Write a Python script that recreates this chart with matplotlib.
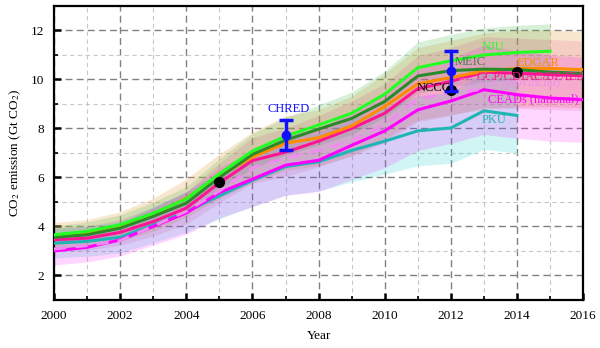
import matplotlib
matplotlib.use("Agg")
import matplotlib.pyplot as plt
import numpy as np
from matplotlib.ticker import MultipleLocator

plt.rcParams['font.family'] = ['Liberation Serif', 'DejaVu Serif']
plt.rcParams['mathtext.fontset'] = 'stix'

# emission estimates, Gt CO2
years = np.arange(2000, 2017)
nju = [3.66, 3.80, 4.07, 4.54, 5.12, 6.15, 7.08, 7.68, 8.14, 8.62, 9.40, 10.48, 10.76, 11.00, 11.10, 11.15]
meic = [3.56, 3.66, 3.93, 4.41, 4.95, 6.00, 6.94, 7.52, 7.97, 8.41, 9.10, 10.14, 10.36, 10.42, 10.40, 10.30, 10.25]
edgar = [3.62, 3.72, 4.00, 4.48, 5.16, 6.05, 6.83, 7.40, 7.62, 8.10, 8.90, 9.82, 10.08, 10.34, 10.45, 10.45, 10.40]
gcp = [3.46, 3.52, 3.76, 4.20, 4.75, 5.78, 6.69, 7.03, 7.48, 8.00, 8.62, 9.62, 9.92, 10.30, 10.25, 10.20, 10.15]
ceads_nat = [3.00, 3.15, 3.45, 4.00, 4.55, 5.38, 5.93, 6.50, 6.70, 7.31, 7.90, 8.76, 9.12, 9.58, 9.38, 9.24, 9.17]
ceads_prov = [3.08, 3.22, 3.42, 4.02, 4.62, 5.45, 6.40, 6.80, 7.10, 7.50, 8.15, 9.20, 9.45, 9.60]
pku = [3.32, 3.39, 3.56, 4.07, 4.60, 5.25, 5.88, 6.44, 6.64, 7.10, 7.48, 7.90, 8.02, 8.72, 8.53]

# relative uncertainty of each dataset (shaded band)
unc_nju = 0.10
unc_edgar = 0.15
unc_gcp = 0.14
unc_ceads = 0.19
unc_pku = 0.18

# single-year estimates
chred_yr, chred_val, chred_lo, chred_hi = 2007, 7.75, 7.13, 8.36
meic_yr, meic_val, meic_lo, meic_hi = 2012, 10.35, 9.52, 11.15
dot_yrs = [2005, 2012, 2014]
dot_vals = [5.83, 9.58, 10.31]

c_nju = '#22ff22'
c_meic = '#2a8a2a'
c_edgar = '#ff8c00'
c_gcp = '#ff1493'
c_nat = '#ff00ff'
c_prov = '#f08cf0'
c_pku = '#1fb5b5'
c_blue = '#1010ff'

fig = plt.figure(figsize=(6, 3.48), dpi=100)
ax = fig.add_axes([0.09, 0.138, 0.882, 0.845])

def band(vals, u, color, alpha):
    v = np.asarray(vals)
    x = years[:len(v)]
    ax.fill_between(x, v * (1 - u), v * (1 + u), color=color, alpha=alpha, lw=0, zorder=1)

band(edgar, unc_edgar, '#e8b060', 0.30)
band(nju, unc_nju, '#50b850', 0.22)
band(gcp, unc_gcp, '#e0307a', 0.14)
band(pku, unc_pku, '#00c8c8', 0.18)
band(ceads_nat, unc_ceads, '#ff00ff', 0.16)

lw = 2.2
ax.plot(years[:len(pku)], pku, color=c_pku, lw=lw, zorder=3)
ax.plot(years[:len(ceads_nat)], ceads_nat, color=c_nat, lw=lw, zorder=3)
ax.plot(years[:len(ceads_prov)], ceads_prov, color=c_prov, lw=lw, ls=(0, (4, 3)), zorder=3)
ax.plot(years[:len(gcp)], gcp, color=c_gcp, lw=lw, zorder=3)
ax.plot(years[:len(edgar)], edgar, color=c_edgar, lw=lw, zorder=3)
ax.plot(years[:len(meic)], meic, color=c_meic, lw=lw, zorder=3)
ax.plot(years[:len(nju)], nju, color=c_nju, lw=lw, zorder=3)

ax.plot(dot_yrs, dot_vals, 'o', color='black', ms=7, zorder=4)
ax.errorbar([chred_yr], [chred_val], yerr=[[chred_val - chred_lo], [chred_hi - chred_val]],
            fmt='o', color=c_blue, ms=6, lw=2.5, capsize=5, capthick=2.5, zorder=5)
ax.errorbar([meic_yr], [meic_val], yerr=[[meic_val - meic_lo], [meic_hi - meic_val]],
            fmt='o', color=c_blue, ms=6, lw=2.5, capsize=5, capthick=2.5, zorder=5)

fs = 9
ax.text(2012.92, 11.33, 'NJU', color=c_nju, fontsize=fs, va='center', zorder=6)
ax.text(2013.98, 10.68, 'EDGAR', color=c_edgar, fontsize=fs, va='center', zorder=6)
ax.text(2012.1, 10.72, 'MEIC', color='#4f7a4f', fontsize=fs, va='center', zorder=6)
ax.text(2012.77, 10.1, 'GCP/CDIAC/BP/IEA', color=c_gcp, fontsize=fs, va='center',
        clip_on=True, zorder=6)
ax.text(2012.25, 9.86, 'CEADs (provincial)', color=c_prov, fontsize=fs, va='center', zorder=6)
ax.text(2010.96, 9.66, 'NCCC', color='black', fontsize=fs, va='center', zorder=6)
ax.text(2013.13, 9.17, 'CEADs (national)', color=c_nat, fontsize=fs, va='center',
        clip_on=True, zorder=6)
ax.text(2012.92, 8.35, 'PKU', color=c_pku, fontsize=fs, va='center', zorder=6)
ax.text(2007.1, 8.8, 'CHRED', color=c_blue, fontsize=fs, va='center', ha='center', zorder=6)

ax.set_xlim(2000, 2016)
ax.set_ylim(1, 13)
ax.xaxis.set_major_locator(MultipleLocator(2))
ax.xaxis.set_minor_locator(MultipleLocator(1))
ax.yaxis.set_minor_locator(MultipleLocator(1))
ax.set_yticks([2, 4, 6, 8, 10, 12])
ax.grid(which='major', color='#808080', ls=(0, (5, 3)), lw=1.0)
ax.grid(which='minor', color='#c8c8c8', ls=(0, (4, 3)), lw=0.8)
ax.set_axisbelow(True)
ax.tick_params(which='major', direction='in', length=5, width=1.8, labelsize=9.5,
               top=False, right=False, pad=7)
ax.tick_params(which='minor', direction='in', length=3, width=1.2, top=False, right=False)
for s in ax.spines.values():
    s.set_linewidth(1.6)

ax.set_xlabel('Year', fontsize=9.5, labelpad=6)
ax.set_ylabel('CO$_2$ emission (Gt CO$_2$)', fontsize=9.5, labelpad=6)

fig.savefig('out.png', dpi=100)
